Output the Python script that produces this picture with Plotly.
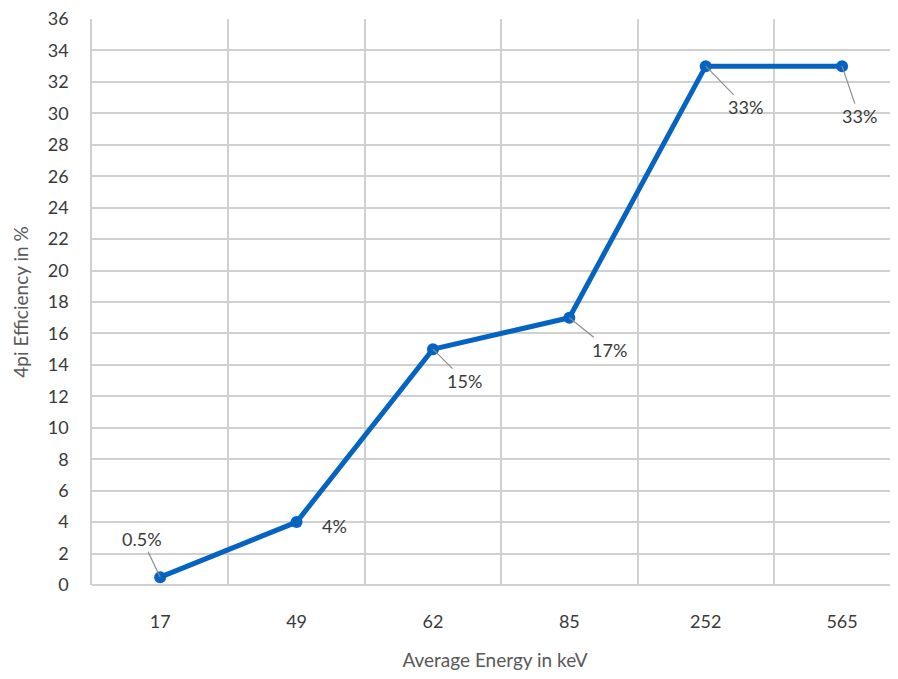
import plotly.graph_objects as go

# Data
energies = ["17", "49", "62", "85", "252", "565"]
efficiency = [0.5, 4, 15, 17, 33, 33]
labels = ["0.5%", "4%", "15%", "17%", "33%", "33%"]

# Label offsets from each point (pixels); None = no leader line
label_offsets = [(-18, -38), None, (32, 32), (40, 32), (40, 41), (17, 50)]

line_color = "#0563C1"
text_color = "#3A3A3A"
grid_color = "#D0D0D0"
font_family = "Lato, Open Sans, sans-serif"

fig = go.Figure()

fig.add_trace(
    go.Scatter(
        x=energies,
        y=efficiency,
        mode="lines+markers",
        line=dict(color=line_color, width=5),
        marker=dict(size=12, color=line_color),
        showlegend=False,
    )
)

# Data labels with leader lines (x given as category index)
for i, (val, txt, off) in enumerate(zip(efficiency, labels, label_offsets)):
    if off is None:
        fig.add_annotation(
            x=i, y=val, text=txt, showarrow=False, xshift=38, yshift=-4,
            font=dict(size=18, color=text_color, family=font_family),
        )
    else:
        fig.add_annotation(
            x=i, y=val, text=txt, showarrow=True,
            ax=off[0], ay=off[1], arrowhead=0, arrowwidth=1.2,
            arrowcolor="#8C8C8C", standoff=0,
            font=dict(size=18, color=text_color, family=font_family),
        )

# page body has an 8px margin, so offsets are reduced by 8
fig.update_layout(
    width=890,
    height=671,
    margin=dict(l=84, r=0, t=11, b=94),
    paper_bgcolor="white",
    plot_bgcolor="white",
    font=dict(family=font_family, color=text_color, size=18),
)

fig.update_xaxes(
    type="category",
    range=[-0.5, 5.41],
    tickson="boundaries",
    showgrid=True,
    gridcolor=grid_color,
    gridwidth=1.5,
    ticks="",
    showline=False,
    zeroline=False,
    ticklabelstandoff=24,
    tickfont=dict(size=18, color=text_color),
    title=dict(text="Average Energy in keV", font=dict(size=19, color="#595959"), standoff=22),
)

fig.update_yaxes(
    range=[0, 36],
    dtick=2,
    showgrid=True,
    gridcolor=grid_color,
    gridwidth=1.5,
    zeroline=True,
    zerolinecolor=grid_color,
    zerolinewidth=1.5,
    showline=True,
    linecolor=grid_color,
    linewidth=1.5,
    ticks="",
    ticklabelstandoff=18,
    ticklabeloverflow="allow",
    tickfont=dict(size=18, color=text_color),
    title=dict(text="4pi Efficiency in %", font=dict(size=19, color="#595959"), standoff=14),
)

fig.write_html("out.html")
